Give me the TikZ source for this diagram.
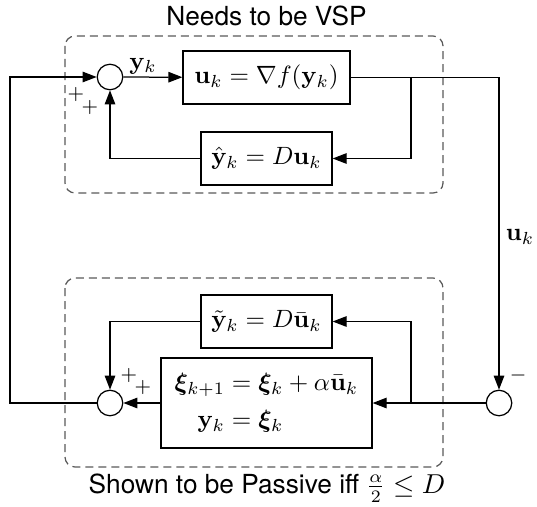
\documentclass[tikz,border=0pt]{standalone}
\usepackage{amsmath,bm}
\usepackage[no-math]{fontspec}
\setmainfont{TeX Gyre Heros}
\usetikzlibrary{arrows.meta}

\tikzset{
  wire/.style={line width=0.5pt},
  arr/.style={wire, -{Triangle[length=5.6pt,width=4.2pt]}},
  block/.style={draw, line width=0.5pt, inner sep=0pt},
  sumnode/.style={circle, draw, line width=0.5pt, minimum size=10.2pt, inner sep=0pt},
  group/.style={draw=black!65, line width=0.5pt, dash pattern=on 3.2pt off 2pt, rounded corners=4pt},
  caption/.style={font=\fontsize{10.5}{12.6}\selectfont},
  sign/.style={inner sep=0pt, font=\footnotesize}
}

\begin{document}
\begin{tikzpicture}[x=0.4pt,y=-0.4pt]
\useasboundingbox (0,0) rectangle (537,506);

% dashed groupings
\draw[group] (65,36) rectangle (443,193);
\draw[group] (65,278) rectangle (443,467);
\node[caption] (top) at (266.5,16) {Needs to be VSP};
\node[caption] (bot) at (267,488) {Shown to be Passive iff $\frac{\alpha}{2}\leq D$};

% upper loop
\node[sumnode] (s1) at (110,77) {};
\node[block, minimum width=66.8pt, minimum height=21.2pt] (f) at (266.5,77.5)
  {$\mathbf{u}_k = \nabla f(\mathbf{y}_k)$};
\node[block, minimum width=52.4pt, minimum height=21.2pt] (yh) at (266.5,158.5)
  {$\hat{\mathbf{y}}_k = D\mathbf{u}_k$};

% lower loop
\node[sumnode] (s2) at (110,403) {};
\node[sumnode] (s3) at (499,403) {};
\node[block, minimum width=52.4pt, minimum height=21.2pt] (yt) at (266.5,321.5)
  {$\tilde{\mathbf{y}}_k = D\bar{\mathbf{u}}_k$};
\node[block, minimum width=84.4pt, minimum height=36pt] (xi) at (266.5,403)
  {$\begin{aligned}\bm{\xi}_{k+1} &= \bm{\xi}_k + \alpha\bar{\mathbf{u}}_k\\ \mathbf{y}_k &= \bm{\xi}_k\end{aligned}$};

\coordinate (b1) at (411,77);
\coordinate (b2) at (411,403);
\coordinate (lft) at (10,240);

% connectors
\draw[arr] (s1) -- (f);
\node (ylab) at (143,66) {$\mathbf{y}_k$};
\draw[arr] (f.east) -| (s3.north);
\node (ulab) at (520,237) {$\mathbf{u}_k$};
\draw[arr] (b1) |- (yh.east);
\draw[arr] (yh.west) -| (s1.south);
\draw[arr] (s3.west) -- (xi.east);
\draw[arr] (b2) |- (yt.east);
\draw[arr] (yt.west) -| (s2.north);
\draw[arr] (xi.west) -- (s2.east);
\draw[arr] (s2.west) -| (lft) |- (s1.west);

% signs at the summing junctions
\node[sign] (p1) at (76,94) {$+$};
\node[sign] (p2) at (90,107) {$+$};
\node[sign] (p3) at (129,375) {$+$};
\node[sign] (p4) at (143,387) {$+$};
\node[sign] (m1) at (518,375) {$-$};
\end{tikzpicture}
\end{document}
